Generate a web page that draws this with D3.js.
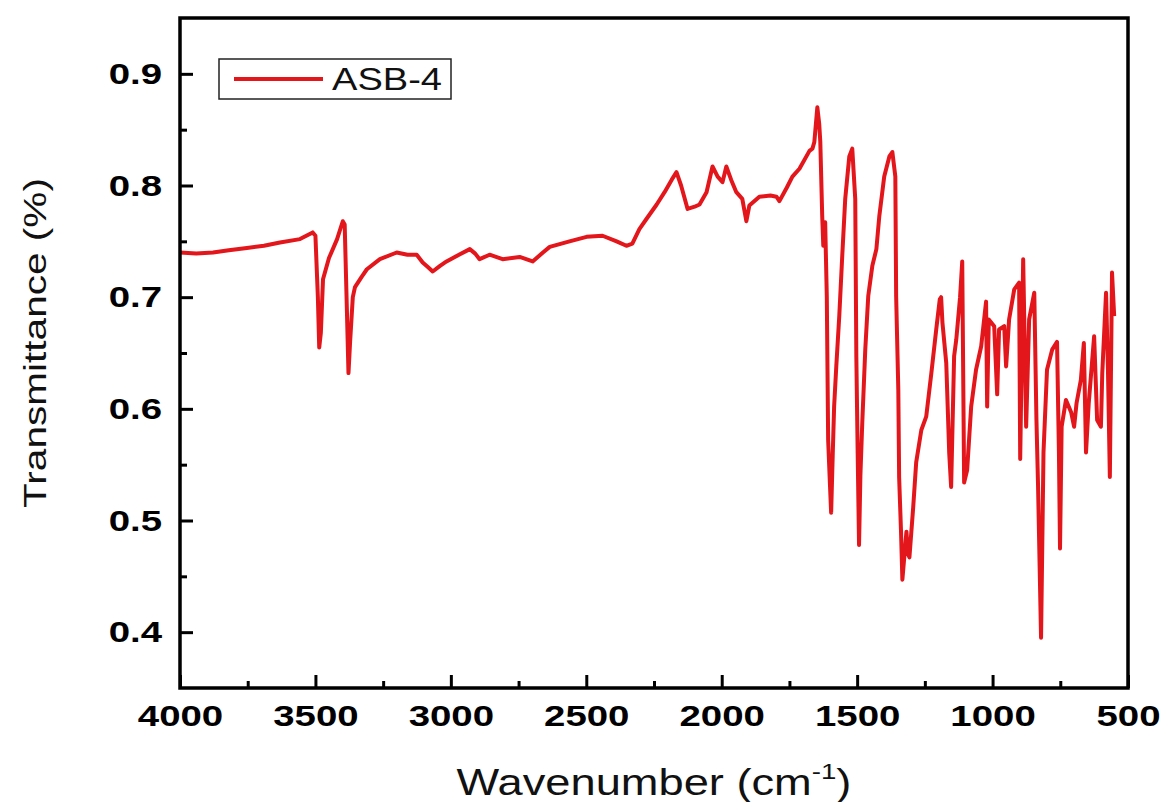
<!DOCTYPE html>
<html>
<head>
<meta charset="utf-8">
<script src="https://cdn.jsdelivr.net/npm/d3@7"></script>
<style>
  body { margin: 0; background: #fff; }
  svg { display: block; font-family: "Liberation Sans", Arial, sans-serif; }
</style>
</head>
<body>
<svg id="chart" width="1163" height="802"></svg>
<script>
// FTIR spectrum (wavenumber in cm-1, transmittance)
const wavenumbers = [
  4000, 3940, 3878, 3820, 3753, 3690, 3631, 3557, 3510, 3500, 3491, 3486, 3480, 3472, 3450, 3420,
  3399, 3392, 3384, 3378, 3372, 3362, 3354, 3330, 3310, 3262, 3200, 3160, 3126, 3104, 3085, 3067,
  3040, 3016, 2970, 2930, 2910, 2894, 2857, 2809, 2746, 2698, 2660, 2635, 2562, 2499, 2440, 2388,
  2352, 2330, 2304, 2278, 2240, 2211, 2185, 2167, 2150, 2126, 2100, 2082, 2056, 2034, 2015, 1997,
  1983, 1965, 1946, 1924, 1909, 1898, 1861, 1820, 1798, 1787, 1760, 1739, 1713, 1676, 1665, 1658,
  1647, 1640, 1636, 1629, 1625, 1618, 1612, 1607, 1600, 1596, 1590, 1585, 1577, 1566, 1555, 1544,
  1529, 1518, 1507, 1503, 1498, 1493, 1488, 1481, 1470, 1459, 1444, 1429, 1418, 1400, 1381, 1370,
  1359, 1356, 1348, 1345, 1338, 1333, 1325, 1318, 1312, 1307, 1293, 1282, 1263, 1245, 1226, 1208,
  1195, 1190, 1185, 1171, 1160, 1153, 1142, 1134, 1120, 1112, 1105, 1094, 1079, 1061, 1042, 1024,
  1020, 1014, 994, 983, 976, 957, 950, 939, 920, 902, 898, 887, 876, 865, 846, 838,
  832, 821, 812, 799, 780, 762, 755, 751, 745, 729, 710, 699, 690, 674, 663, 655,
  645, 625, 614, 600, 595, 581, 574, 567, 559, 551
];
const transmittance = [
  0.740, 0.739, 0.740, 0.742, 0.744, 0.746, 0.749, 0.752, 0.758, 0.755, 0.700, 0.655, 0.668, 0.716, 0.735, 0.752,
  0.768, 0.765, 0.690, 0.632, 0.660, 0.700, 0.709, 0.718, 0.725, 0.734, 0.740, 0.738, 0.738, 0.731, 0.727, 0.723,
  0.728, 0.732, 0.738, 0.743, 0.739, 0.734, 0.738, 0.734, 0.736, 0.732, 0.740, 0.745, 0.750, 0.754, 0.755, 0.750,
  0.746, 0.748, 0.761, 0.770, 0.783, 0.794, 0.805, 0.812, 0.800, 0.779, 0.781, 0.783, 0.794, 0.817, 0.808, 0.803,
  0.817, 0.805, 0.794, 0.788, 0.768, 0.782, 0.790, 0.791, 0.790, 0.786, 0.798, 0.808, 0.815, 0.831, 0.833, 0.839,
  0.870, 0.855, 0.839, 0.773, 0.746, 0.767, 0.700, 0.572, 0.530, 0.507, 0.560, 0.602, 0.638, 0.683, 0.737, 0.788,
  0.826, 0.833, 0.788, 0.647, 0.560, 0.478, 0.540, 0.588, 0.653, 0.701, 0.728, 0.743, 0.773, 0.808, 0.826, 0.830,
  0.808, 0.701, 0.617, 0.539, 0.490, 0.447, 0.470, 0.490, 0.470, 0.467, 0.512, 0.552, 0.581, 0.593, 0.632, 0.671,
  0.698, 0.700, 0.677, 0.641, 0.560, 0.530, 0.647, 0.662, 0.700, 0.732, 0.534, 0.545, 0.602, 0.635, 0.656, 0.696,
  0.602, 0.680, 0.674, 0.613, 0.671, 0.674, 0.638, 0.680, 0.707, 0.713, 0.555, 0.734, 0.584, 0.680, 0.704, 0.590,
  0.530, 0.395, 0.561, 0.635, 0.653, 0.660, 0.561, 0.475, 0.584, 0.608, 0.597, 0.584, 0.605, 0.626, 0.659, 0.561,
  0.605, 0.665, 0.590, 0.584, 0.632, 0.704, 0.635, 0.539, 0.722, 0.683
];
const xTicks = [4000, 3500, 3000, 2500, 2000, 1500, 1000, 500];
const xMinorTicks = [3750, 3250, 2750, 2250, 1750, 1250, 750];
const yTicks = [0.4, 0.5, 0.6, 0.7, 0.8, 0.9];
const yMinorTicks = [0.45, 0.55, 0.65, 0.75, 0.85];
const seriesName = "ASB-4";

const width = 1163, height = 802;
const margin = { top: 18, right: 35, bottom: 114, left: 180 };
const lineColor = "#e3161b";
const stretch = 1.28; // the original glyphs are wider than Arial

const svg = d3.select("#chart");

const x = d3.scaleLinear()
  .domain([4000, 500])
  .range([margin.left, width - margin.right]);

const y = d3.scaleLinear()
  .domain([0.35, 0.95])
  .range([height - margin.bottom, margin.top]);

// bottom axis, ticks pointing inwards
svg.append("g")
  .attr("transform", `translate(0,${height - margin.bottom})`)
  .call(d3.axisBottom(x).tickValues(xTicks).tickFormat(d3.format("d"))
    .tickSizeInner(-13).tickSizeOuter(0).tickPadding(17));
svg.append("g")
  .attr("transform", `translate(0,${height - margin.bottom})`)
  .call(d3.axisBottom(x).tickValues(xMinorTicks).tickFormat("")
    .tickSizeInner(-7).tickSizeOuter(0));

svg.append("g")
  .attr("transform", `translate(${margin.left},0)`)
  .call(d3.axisLeft(y).tickValues(yTicks).tickFormat(d3.format(".1f"))
    .tickSizeInner(-13).tickSizeOuter(0).tickPadding(14));
svg.append("g")
  .attr("transform", `translate(${margin.left},0)`)
  .call(d3.axisLeft(y).tickValues(yMinorTicks).tickFormat("")
    .tickSizeInner(-7).tickSizeOuter(0));

svg.selectAll(".domain").remove();
svg.selectAll(".tick line").attr("stroke", "#000").attr("stroke-width", 3);
svg.selectAll(".tick text")
  .attr("fill", "#000")
  .style("font-family", "'Liberation Sans', Arial, sans-serif")
  .style("font-size", "30px")
  .style("font-weight", "bold")
  .attr("transform", `scale(${stretch},1)`);

// spectrum
const pts = wavenumbers.map((w, i) => [w, transmittance[i]]);
svg.append("path")
  .datum(pts)
  .attr("fill", "none")
  .attr("stroke", lineColor)
  .attr("stroke-width", 4)
  .attr("stroke-linejoin", "round")
  .attr("d", d3.line().x(d => x(d[0])).y(d => y(d[1])));

// frame
svg.append("rect")
  .attr("x", margin.left)
  .attr("y", margin.top)
  .attr("width", width - margin.left - margin.right)
  .attr("height", height - margin.top - margin.bottom)
  .attr("fill", "none")
  .attr("stroke", "#000")
  .attr("stroke-width", 3.5);

// stretch a text element to a target length
function fitLength(sel, target) {
  const w = sel.node().getComputedTextLength();
  sel.attr("transform", `scale(${target / w},1)`);
}

// legend
const legend = svg.append("g");
legend.append("rect")
  .attr("x", 219).attr("y", 59).attr("width", 232).attr("height", 40)
  .attr("fill", "#fff").attr("stroke", "#222").attr("stroke-width", 1.5);
legend.append("line")
  .attr("x1", 234).attr("x2", 323).attr("y1", 79).attr("y2", 79)
  .attr("stroke", lineColor).attr("stroke-width", 4);
const legText = legend.append("g").attr("transform", "translate(332,90)")
  .append("text")
  .attr("font-size", 32)
  .attr("fill", "#111")
  .text(seriesName);
fitLength(legText, 110);

// axis titles
const xTitle = svg.append("g")
  .attr("transform", `translate(${(margin.left + width - margin.right) / 2},795)`)
  .append("text")
  .attr("text-anchor", "middle")
  .attr("font-size", 36)
  .attr("fill", "#111");
xTitle.append("tspan").text("Wavenumber (cm");
xTitle.append("tspan").attr("font-size", 22).attr("dy", -16).text("-1");
xTitle.append("tspan").attr("dy", 16).text(")");
fitLength(xTitle, 395);

const yTitle = svg.append("g")
  .attr("transform", "translate(46,343) rotate(-90)")
  .append("text")
  .attr("text-anchor", "middle")
  .attr("font-size", 32)
  .attr("fill", "#111")
  .text("Transmittance (%)");
fitLength(yTitle, 330);
</script>
</body>
</html>
